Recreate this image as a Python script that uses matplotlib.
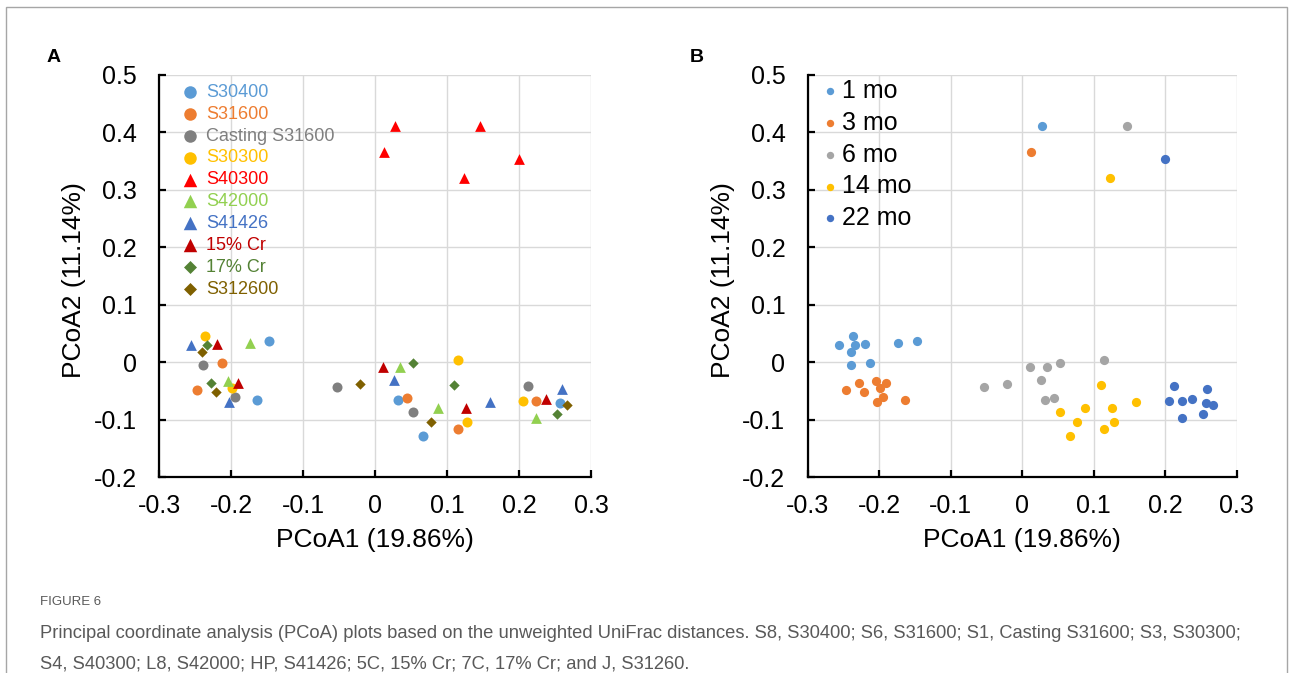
import matplotlib
matplotlib.use("Agg")
import matplotlib.pyplot as plt
from matplotlib.patches import Rectangle
from matplotlib.ticker import FuncFormatter, MultipleLocator

plt.rcParams["font.family"] = ["Liberation Sans", "DejaVu Sans"]
plt.rcParams["axes.unicode_minus"] = False

# ── data: PCoA coordinates, each list ordered by month (1, 3, 6, 14, 22 mo) ──
months = ["1 mo", "3 mo", "6 mo", "14 mo", "22 mo"]

s30400_pc1 = [-0.147, -0.164, 0.032, 0.067, 0.257]
s30400_pc2 = [0.036, -0.066, -0.066, -0.129, -0.072]
s31600_pc1 = [-0.213, -0.247, 0.044, 0.115, 0.223]
s31600_pc2 = [-0.002, -0.048, -0.062, -0.116, -0.068]
casting_pc1 = [-0.239, -0.195, -0.053, 0.053, 0.213]
casting_pc2 = [-0.005, -0.061, -0.043, -0.087, -0.041]
s30300_pc1 = [-0.237, -0.199, 0.115, 0.128, 0.206]
s30300_pc2 = [0.045, -0.045, 0.004, -0.105, -0.068]
s40300_pc1 = [0.027, 0.012, 0.146, 0.123, 0.200]
s40300_pc2 = [0.411, 0.366, 0.412, 0.321, 0.353]
s42000_pc1 = [-0.174, -0.205, 0.034, 0.088, 0.224]
s42000_pc2 = [0.034, -0.033, -0.009, -0.080, -0.098]
s41426_pc1 = [-0.256, -0.203, 0.026, 0.159, 0.259]
s41426_pc2 = [0.030, -0.070, -0.031, -0.070, -0.047]
cr15_pc1 = [-0.220, -0.190, 0.011, 0.126, 0.237]
cr15_pc2 = [0.032, -0.037, -0.009, -0.079, -0.065]
cr17_pc1 = [-0.234, -0.228, 0.053, 0.110, 0.253]
cr17_pc2 = [0.030, -0.037, -0.001, -0.040, -0.090]
s312600_pc1 = [-0.240, -0.221, -0.021, 0.077, 0.267]
s312600_pc2 = [0.018, -0.052, -0.038, -0.105, -0.075]

materials = [
    # label, pc1, pc2, marker, size, colour
    ("S30400", s30400_pc1, s30400_pc2, "o", 52, "#5B9BD5"),
    ("S31600", s31600_pc1, s31600_pc2, "o", 52, "#ED7D31"),
    ("Casting S31600", casting_pc1, casting_pc2, "o", 52, "#7F7F7F"),
    ("S30300", s30300_pc1, s30300_pc2, "o", 52, "#FFC000"),
    ("S40300", s40300_pc1, s40300_pc2, "^", 60, "#FF0000"),
    ("S42000", s42000_pc1, s42000_pc2, "^", 60, "#92D050"),
    ("S41426", s41426_pc1, s41426_pc2, "^", 60, "#4472C4"),
    ("15% Cr", cr15_pc1, cr15_pc2, "^", 60, "#C00000"),
    ("17% Cr", cr17_pc1, cr17_pc2, "D", 28, "#548235"),
    ("S312600", s312600_pc1, s312600_pc2, "D", 28, "#7F6000"),
]
month_colors = ["#5B9BD5", "#ED7D31", "#A5A5A5", "#FFC000", "#4472C4"]

W, H = 1293, 673
fig = plt.figure(figsize=(W / 100, H / 100), dpi=100)

# journal figure frame
fig.add_artist(Rectangle((6 / W, -0.05), (1287 - 6) / W, 1.05 - 7 / H,
                         transform=fig.transFigure, fill=False,
                         edgecolor="#A6A6A6", linewidth=1.0, clip_on=False))

ax_a = fig.add_axes([159.3 / W, 1 - 477 / H, 431.7 / W, 402 / H])
ax_b = fig.add_axes([807.7 / W, 1 - 477 / H, 429 / W, 402 / H])

tick_fmt = FuncFormatter(lambda v, p: "0" if abs(v) < 1e-9 else f"{v:.1f}")


def style_axes(ax):
    ax.set_xlim(-0.3, 0.3)
    ax.set_ylim(-0.2, 0.5)
    ax.xaxis.set_major_locator(MultipleLocator(0.1))
    ax.yaxis.set_major_locator(MultipleLocator(0.1))
    ax.xaxis.set_major_formatter(tick_fmt)
    ax.yaxis.set_major_formatter(tick_fmt)
    ax.set_axisbelow(True)
    ax.grid(True, color="#D9D9D9", linewidth=1.0)
    for side in ["top", "right"]:
        ax.spines[side].set_visible(False)
    for side in ["left", "bottom"]:
        ax.spines[side].set_linewidth(1.6)
    ax.tick_params(direction="in", length=5, width=1.6, labelsize=18,
                   colors="black")
    ax.tick_params(axis="x", pad=12)
    ax.tick_params(axis="y", pad=16)
    ax.set_xlabel("PCoA1 (19.86%)", fontsize=19)
    ax.set_ylabel("PCoA2 (11.14%)", fontsize=19)
    ax.xaxis.set_label_coords(0.5, -0.128)
    ax.yaxis.set_label_coords(-0.17, 0.49)


# ─ Panel A: coloured by material ─────────────────────────────────────────────
style_axes(ax_a)
for label, px, py, mk, sz, col in materials:
    ax_a.scatter(px, py, marker=mk, s=sz, color=col, linewidths=0,
                 label=label, zorder=3)
leg_a = ax_a.legend(loc="upper left", bbox_to_anchor=(0.054, 0.978),
                    frameon=False, fontsize=13, scatterpoints=1,
                    markerscale=1.25, handlelength=0.8, handletextpad=0.5,
                    labelspacing=0.27, borderpad=0, borderaxespad=0)
for txt, m in zip(leg_a.get_texts(), materials):
    txt.set_color(m[5])

# ─ Panel B: coloured by sampling time ────────────────────────────────────────
style_axes(ax_b)
for i, mo in enumerate(months):
    bx = [m[1][i] for m in materials]
    by = [m[2][i] for m in materials]
    ax_b.scatter(bx, by, marker="o", s=44, color=month_colors[i],
                 linewidths=0, label=mo, zorder=3)
ax_b.legend(loc="upper left", bbox_to_anchor=(0.040, 0.99),
            frameon=False, fontsize=18, scatterpoints=1, markerscale=0.8,
            handlelength=0.4, handletextpad=0.3, labelspacing=0.31,
            borderpad=0, borderaxespad=0)

# panel letters
fig.text(54 / W, 1 - 57 / H, "A", fontsize=14, fontweight="bold",
         ha="center", va="center")
fig.text(697 / W, 1 - 57 / H, "B", fontsize=14, fontweight="bold",
         ha="center", va="center")

# caption
fig.text(40 / W, 1 - 602 / H, "FIGURE 6", fontsize=9.5, color="#595959",
         va="center", ha="left")
fig.text(40 / W, 1 - 633 / H,
         "Principal coordinate analysis (PCoA) plots based on the unweighted "
         "UniFrac distances. S8, S30400; S6, S31600; S1, Casting S31600; "
         "S3, S30300;",
         fontsize=13.2, color="#595959", va="center", ha="left")
fig.text(40 / W, 1 - 664 / H,
         "S4, S40300; L8, S42000; HP, S41426; 5C, 15% Cr; 7C, 17% Cr; "
         "and J, S31260.",
         fontsize=13.2, color="#595959", va="center", ha="left")

fig.savefig("out.png", dpi=100)
